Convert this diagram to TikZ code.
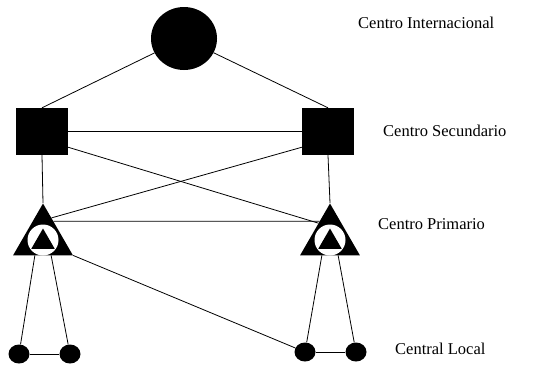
\documentclass[tikz,border=0pt]{standalone}
\usepackage{fontspec}
\setmainfont{Liberation Serif}
\usetikzlibrary{shapes.geometric, positioning}

\begin{document}
\begin{tikzpicture}[x=1pt, y=-1pt,
  hub/.style={ellipse, fill=black, inner sep=0pt, minimum width=66pt, minimum height=63pt},
  office/.style={rectangle, fill=black, inner sep=0pt, minimum width=52pt, minimum height=47pt},
  primary/.style={regular polygon, regular polygon sides=3, fill=black, inner sep=0pt, minimum size=69pt},
  ring/.style={circle, fill=white, inner sep=0pt, minimum size=31pt},
  core/.style={regular polygon, regular polygon sides=3, fill=black, inner sep=0pt, minimum size=27pt},
  local/.style={ellipse, fill=black, inner sep=0pt, minimum width=21pt, minimum height=19pt},
  label/.style={anchor=west, font=\fontsize{16.5}{20}\selectfont, inner sep=0pt},
  link/.style={line width=0.8pt}
]
  \useasboundingbox (0,0) rectangle (544,367);

  % nodes
  \node[hub] (intl) at (184,38.5) {};
  \node[office] (secL) at (42,131.5) {};
  \node[office] (secR) at (328,131.5) {};
  \node[primary] (priL) at (43,238) {};
  \node[primary] (priR) at (330,238) {};
  \node[local] (locL1) at (19,354) {};
  \node[local] (locL2) at (70,354) {};
  \node[local] (locR1) at (305,352) {};
  \node[local] (locR2) at (356,352) {};

  % connectors
  \draw[link] (secL.north) -- (intl);
  \draw[link] (secR.north) -- (intl);
  \draw[link] (secL) -- (secR);
  \draw[link] (secL.-31) -- (priR.128);
  \draw[link] (secR.211) -- (priL.67);
  \draw[link] (secL.south) -- (priL.north);
  \draw[link] (secR.south) -- (priR.north);
  \draw[link] (priL.58) -- (priR.122);
  \draw[link] (priL.-115) -- (locL1);
  \draw[link] (priL.-65) -- (locL2);
  \draw[link] (priR.-115) -- (locR1);
  \draw[link] (priR.-65) -- (locR2);
  \draw[link] (priL.corner 3) -- (locR1);
  \draw[link] (locL1) -- (locL2);
  \draw[link] (locR1) -- (locR2);

  % inner marks of the primary centres
  \node[ring] (ringL) at ([yshift=-2pt]priL.center) {};
  \node[core] (coreL) at ([yshift=-4pt]priL.center) {};
  \node[ring] (ringR) at ([yshift=-2pt]priR.center) {};
  \node[core] (coreR) at ([yshift=-4pt]priR.center) {};

  % labels
  \node[label] (tIntl) at (358,23) {Centro Internacional};
  \node[label] (tSec) at (383,131) {Centro Secundario};
  \node[label] (tPri) at (378,224) {Centro Primario};
  \node[label] (tLoc) at (395,349) {Central Local};
\end{tikzpicture}
\end{document}
